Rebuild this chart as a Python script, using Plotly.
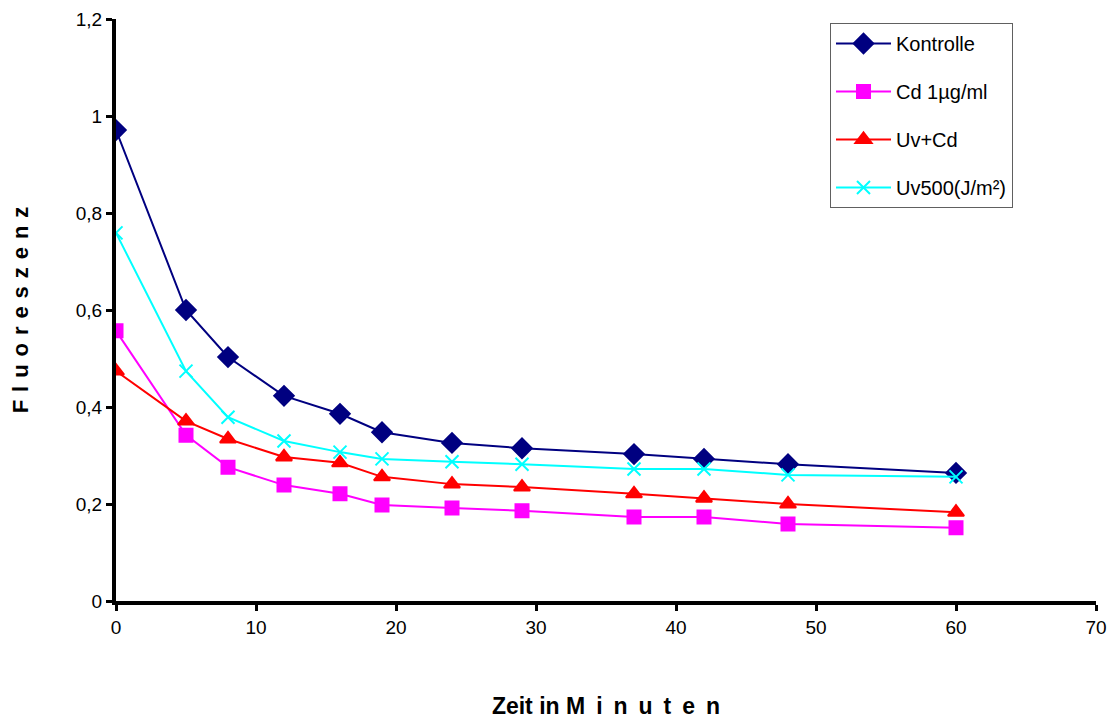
import plotly.graph_objects as go

zeit = [0, 5, 8, 12, 16, 19, 24, 29, 37, 42, 48, 60]
kontrolle = [0.971, 0.600, 0.503, 0.423, 0.386, 0.348, 0.326, 0.315, 0.303, 0.293, 0.282, 0.264]
cd = [0.557, 0.342, 0.276, 0.239, 0.221, 0.198, 0.192, 0.186, 0.173, 0.173, 0.159, 0.151]
uv_cd = [0.474, 0.371, 0.334, 0.297, 0.285, 0.256, 0.241, 0.235, 0.221, 0.212, 0.200, 0.183]
uv500 = [0.759, 0.474, 0.379, 0.330, 0.307, 0.293, 0.287, 0.282, 0.272, 0.272, 0.260, 0.256]

series = [
    ("Kontrolle", kontrolle, "#000080", "diamond", 15),
    ("Cd 1µg/ml", cd, "#FF00FF", "square", 13),
    ("Uv+Cd", uv_cd, "#FF0000", "triangle-up", 14),
    ("Uv500(J/m²)", uv500, "#00FFFF", "x-thin", 13),
]

fig = go.Figure()
for i, (name, vals, col, sym, sz) in enumerate(series):
    fig.add_trace(go.Scatter(
        x=zeit, y=vals, name=name, mode="lines+markers",
        line=dict(color=col, width=2),
        marker=dict(symbol=sym, size=sz, color=col,
                    line=dict(color=col, width=2)),
        legendgroup=f"g{i}",
    ))

xtitle = "Zeit in " + "&nbsp;&#8201;".join("Minuten")
ytitle = "&nbsp;&#8202;".join("Fluoreszenz")

font = "Liberation Sans, Arial, sans-serif"
fig.update_layout(
    width=1117, height=720,
    margin=dict(l=116, r=21, t=19, b=119, autoexpand=False),
    paper_bgcolor="white", plot_bgcolor="white",
    font=dict(family=font, size=19, color="black"),
    showlegend=True,
    legend=dict(
        x=830/1117, y=1 - 23/720, xref="container", yref="container",
        xanchor="left", yanchor="top",
        bordercolor="#606060", borderwidth=1, bgcolor="white",
        font=dict(family=font, size=20, color="black"),
        traceorder="grouped", tracegroupgap=19,
        itemwidth=55,
    ),
    xaxis=dict(
        range=[0, 70], tickvals=[0, 10, 20, 30, 40, 50, 60, 70],
        showgrid=False, zeroline=False,
        showline=True, linecolor="black", linewidth=4,
        ticks="outside", ticklen=6, tickwidth=3, tickcolor="black",
        tickfont=dict(size=19),
        title=dict(text="<b>" + xtitle + "</b>", standoff=62, font=dict(size=23)),
    ),
    yaxis=dict(
        range=[0, 1.2], tickvals=[0, 0.2, 0.4, 0.6, 0.8, 1.0, 1.2],
        ticktext=["0", "0,2", "0,4", "0,6", "0,8", "1", "1,2"],
        showgrid=False, zeroline=False,
        showline=True, linecolor="black", linewidth=4,
        ticks="outside", ticklen=6, tickwidth=3, tickcolor="black",
        tickfont=dict(size=19),
        title=dict(text="<b>" + ytitle + "</b>", standoff=42, font=dict(size=22)),
    ),
)

fig.write_html("out.html")
